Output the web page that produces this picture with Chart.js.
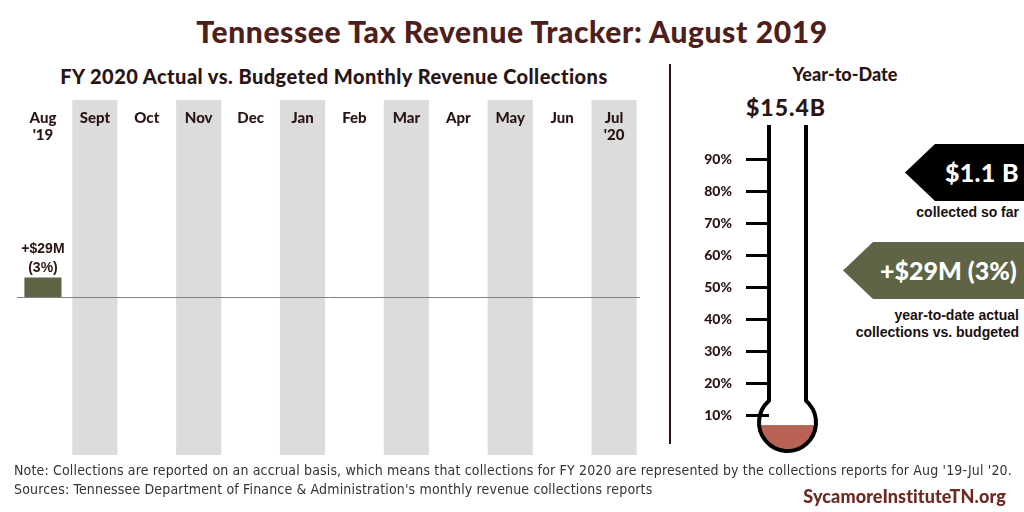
<!DOCTYPE html>
<html>
<head>
<meta charset="utf-8">
<style>
	body { margin: 0; background: #fff; }
	#page { position: relative; width: 1024px; height: 512px; overflow: hidden; font-family: Lato, sans-serif; color: #2a1414; }
	.abs { position: absolute; white-space: nowrap; }
	#title { left: 0; width: 1024px; top: 13px; text-align: center; font-size: 30px; font-weight: 900; color: #4e201c; letter-spacing: 0.6px; }
	#sub { left: 24px; width: 620px; top: 64px; text-align: center; font-size: 20px; font-weight: 900; letter-spacing: 0.45px; }
	#ytd { left: 770px; width: 150px; top: 63px; text-align: center; font-size: 18px; font-weight: 900; }
	#total { left: 726px; width: 120px; top: 93px; text-align: center; font-size: 23px; font-weight: 900; letter-spacing: 1px; }
	#divider { left: 669px; top: 64px; width: 2px; height: 380px; background: #2a1410; }
	.arrow { clip-path: polygon(0 50%, 30px 0, 100% 0, 100% 100%, 30px 100%); color: #fff; font-weight: 900; font-size: 25px; line-height: 57px; }
	#a1 { left: 905px; top: 144px; width: 119px; height: 57px; background: #000; padding-left: 40px; box-sizing: border-box; letter-spacing: 0.3px; }
	#a2 { left: 843px; top: 242px; width: 181px; height: 57px; background: #5f6446; padding-left: 37px; box-sizing: border-box; }
	.cap { right: 5px; text-align: right; font-family: "Liberation Sans", Arial, sans-serif; font-weight: bold; font-size: 14px; line-height: 17px; color: #1a1010; }
	#c1 { top: 204px; }
	#c2 { top: 307px; }
	.note { left: 14px; font-family: "Liberation Sans Narrow", "DejaVu Sans Condensed", sans-serif; font-size: 14px; color: #333; letter-spacing: 0.16px; }
	#n1 { top: 462px; }
	#n2 { top: 481px; }
	#site { right: 18px; top: 485px; font-size: 18px; font-weight: 900; color: #6b2a22; letter-spacing: 0.1px; }
	canvas { position: absolute; top: 0; }
	#left { left: 0; }
	#right { left: 690px; }
</style>
</head>
<body>
<div id="page">
	<div id="title" class="abs">Tennessee Tax Revenue Tracker: August 2019</div>
	<div id="sub" class="abs">FY 2020 Actual vs. Budgeted Monthly Revenue Collections</div>
	<div id="divider" class="abs"></div>
	<div id="ytd" class="abs">Year-to-Date</div>
	<div id="total" class="abs">$15.4B</div>

	<canvas id="left" width="660" height="512"></canvas>
	<canvas id="right" width="150" height="512"></canvas>

	<div id="a1" class="abs arrow">$1.1 B</div>
	<div id="c1" class="abs cap">collected so far</div>
	<div id="a2" class="abs arrow">+$29M (3%)</div>
	<div id="c2" class="abs cap">year-to-date actual<br>collections vs. budgeted</div>

	<div id="n1" class="abs note">Note: Collections are reported on an accrual basis, which means that collections for FY 2020 are represented by the collections reports for Aug '19-Jul '20.</div>
	<div id="n2" class="abs note">Sources: Tennessee Department of Finance &amp; Administration's monthly revenue collections reports</div>
	<div id="site" class="abs">SycamoreInstituteTN.org</div>
</div>

<script src="https://cdn.jsdelivr.net/npm/chart.js"></script>
<script>

	// monthly data (percent difference actual vs budget)
	const months = [["Aug", "'19"], "Sept", "Oct", "Nov", "Dec", "Jan", "Feb", "Mar", "Apr", "May", "Jun", ["Jul", "'20"]]
	const pctDiff = [3, null, null, null, null, null, null, null, null, null, null, null]
	const diffLabels = [["+$29M", "(3%)"], null, null, null, null, null, null, null, null, null, null, null]
	const shadedMonths = [false, true, false, true, false, true, false, true, false, true, false, true]
	const yMin = -24
	const yMax = 30

	// year-to-date
	const ytdBudget = 15.4   // $B
	const ytdCollected = 1.1 // $B
	const ytdTicks = [10, 20, 30, 40, 50, 60, 70, 80, 90]

	const dark = '#2a1414'

	const monthLabels = {
		id: 'monthLabels',
		afterDatasetsDraw(chart) {
			const ctx = chart.ctx
			const x = chart.scales.x
			const y = chart.scales.y
			const area = chart.chartArea
			// zero line
			ctx.save()
			ctx.strokeStyle = '#808080'
			ctx.lineWidth = 1
			ctx.beginPath()
			ctx.moveTo(area.left, Math.round(y.getPixelForValue(0)) + 0.5)
			ctx.lineTo(area.right, Math.round(y.getPixelForValue(0)) + 0.5)
			ctx.stroke()

			ctx.fillStyle = dark
			ctx.textAlign = 'center'
			ctx.textBaseline = 'middle'
			ctx.font = '900 15px Lato'
			months.forEach((m, i) => {
				let lines = Array.isArray(m) ? m : [m]
				lines.forEach((t, j) => ctx.fillText(t, x.getPixelForValue(i), 118 + j * 17))
			})

			ctx.font = 'bold 14px "Liberation Sans"'
			chart.getDatasetMeta(0).data.forEach((bar, i) => {
				if (diffLabels[i] == null) return
				diffLabels[i].forEach((t, j) => ctx.fillText(t, bar.x, bar.y - 28 + j * 19))
			})
			ctx.restore()
		}
	}

	new Chart(document.getElementById('left'), {
		type: 'bar',
		data: {
			labels: months,
			datasets: [
				{
					data: pctDiff,
					backgroundColor: '#5f6446',
					barPercentage: 0.715,
					categoryPercentage: 1,
					grouped: false,
				},
				{
					data: shadedMonths.map(s => s ? [yMin, yMax] : null),
					backgroundColor: '#dcdcdc',
					barPercentage: 0.87,
					categoryPercentage: 1,
					grouped: false,
				},
			]
		},
		options: {
			responsive: false,
			animation: false,
			layout: { padding: { left: 17, right: 20, top: 100, bottom: 57 } },
			plugins: { legend: { display: false }, tooltip: { enabled: false } },
			scales: {
				x: { display: false },
				y: { display: false, min: yMin, max: yMax }
			}
		},
		plugins: [monthLabels]
	})

	// thermometer drawn around the y scale
	const thermo = {
		id: 'thermo',
		afterDatasetsDraw(chart) {
			const ctx = chart.ctx
			const area = chart.chartArea
			const y = chart.scales.y
			const l = area.left, r = area.right
			const cx = (l + r) / 2
			const rad = 28.5
			const cy = y.getPixelForValue(0) - 25.5
			const half = (r - l) / 2
			const dy = Math.sqrt(rad * rad - half * half)

			// fill level
			const bar = chart.getDatasetMeta(0).data[0]
			ctx.save()
			ctx.beginPath()
			ctx.arc(cx, cy, rad - 1, 0, Math.PI * 2)
			ctx.clip()
			ctx.fillStyle = '#b86356'
			ctx.fillRect(cx - rad, bar.y, rad * 2, rad * 2)
			ctx.restore()

			ctx.save()
			ctx.strokeStyle = '#000'
			ctx.lineWidth = 4
			ctx.lineJoin = 'round'
			ctx.beginPath()
			ctx.moveTo(l, area.top - 2)
			ctx.lineTo(l, cy - dy)
			let a1 = Math.atan2(-dy, -half)
			let a2 = Math.atan2(-dy, half)
			ctx.arc(cx, cy, rad, a1, a2, true)
			ctx.lineTo(r, area.top - 2)
			ctx.stroke()
			ctx.restore()
		}
	}

	new Chart(document.getElementById('right'), {
		type: 'bar',
		data: {
			labels: ['YTD'],
			datasets: [{
				data: [ytdCollected / ytdBudget * 100],
				backgroundColor: 'rgba(0,0,0,0)',
			}]
		},
		options: {
			responsive: false,
			animation: false,
			layout: { padding: { left: 0, right: 34, top: 127, bottom: 64 } },
			plugins: { legend: { display: false }, tooltip: { enabled: false } },
			scales: {
				x: { display: false },
				y: {
					min: 0,
					max: 100,
					afterBuildTicks: s => { s.ticks = ytdTicks.map(v => ({ value: v })) },
					afterFit: s => { s.width = 79 },
					border: { display: false },
					grid: { drawOnChartArea: false, tickLength: 23, tickWidth: 3, tickColor: '#000' },
					ticks: {
						padding: 14,
						color: dark,
						font: { family: 'Lato', weight: '900', size: 14 },
						callback: v => v + '%'
					}
				}
			}
		},
		plugins: [thermo]
	})

</script>
</body>
</html>
